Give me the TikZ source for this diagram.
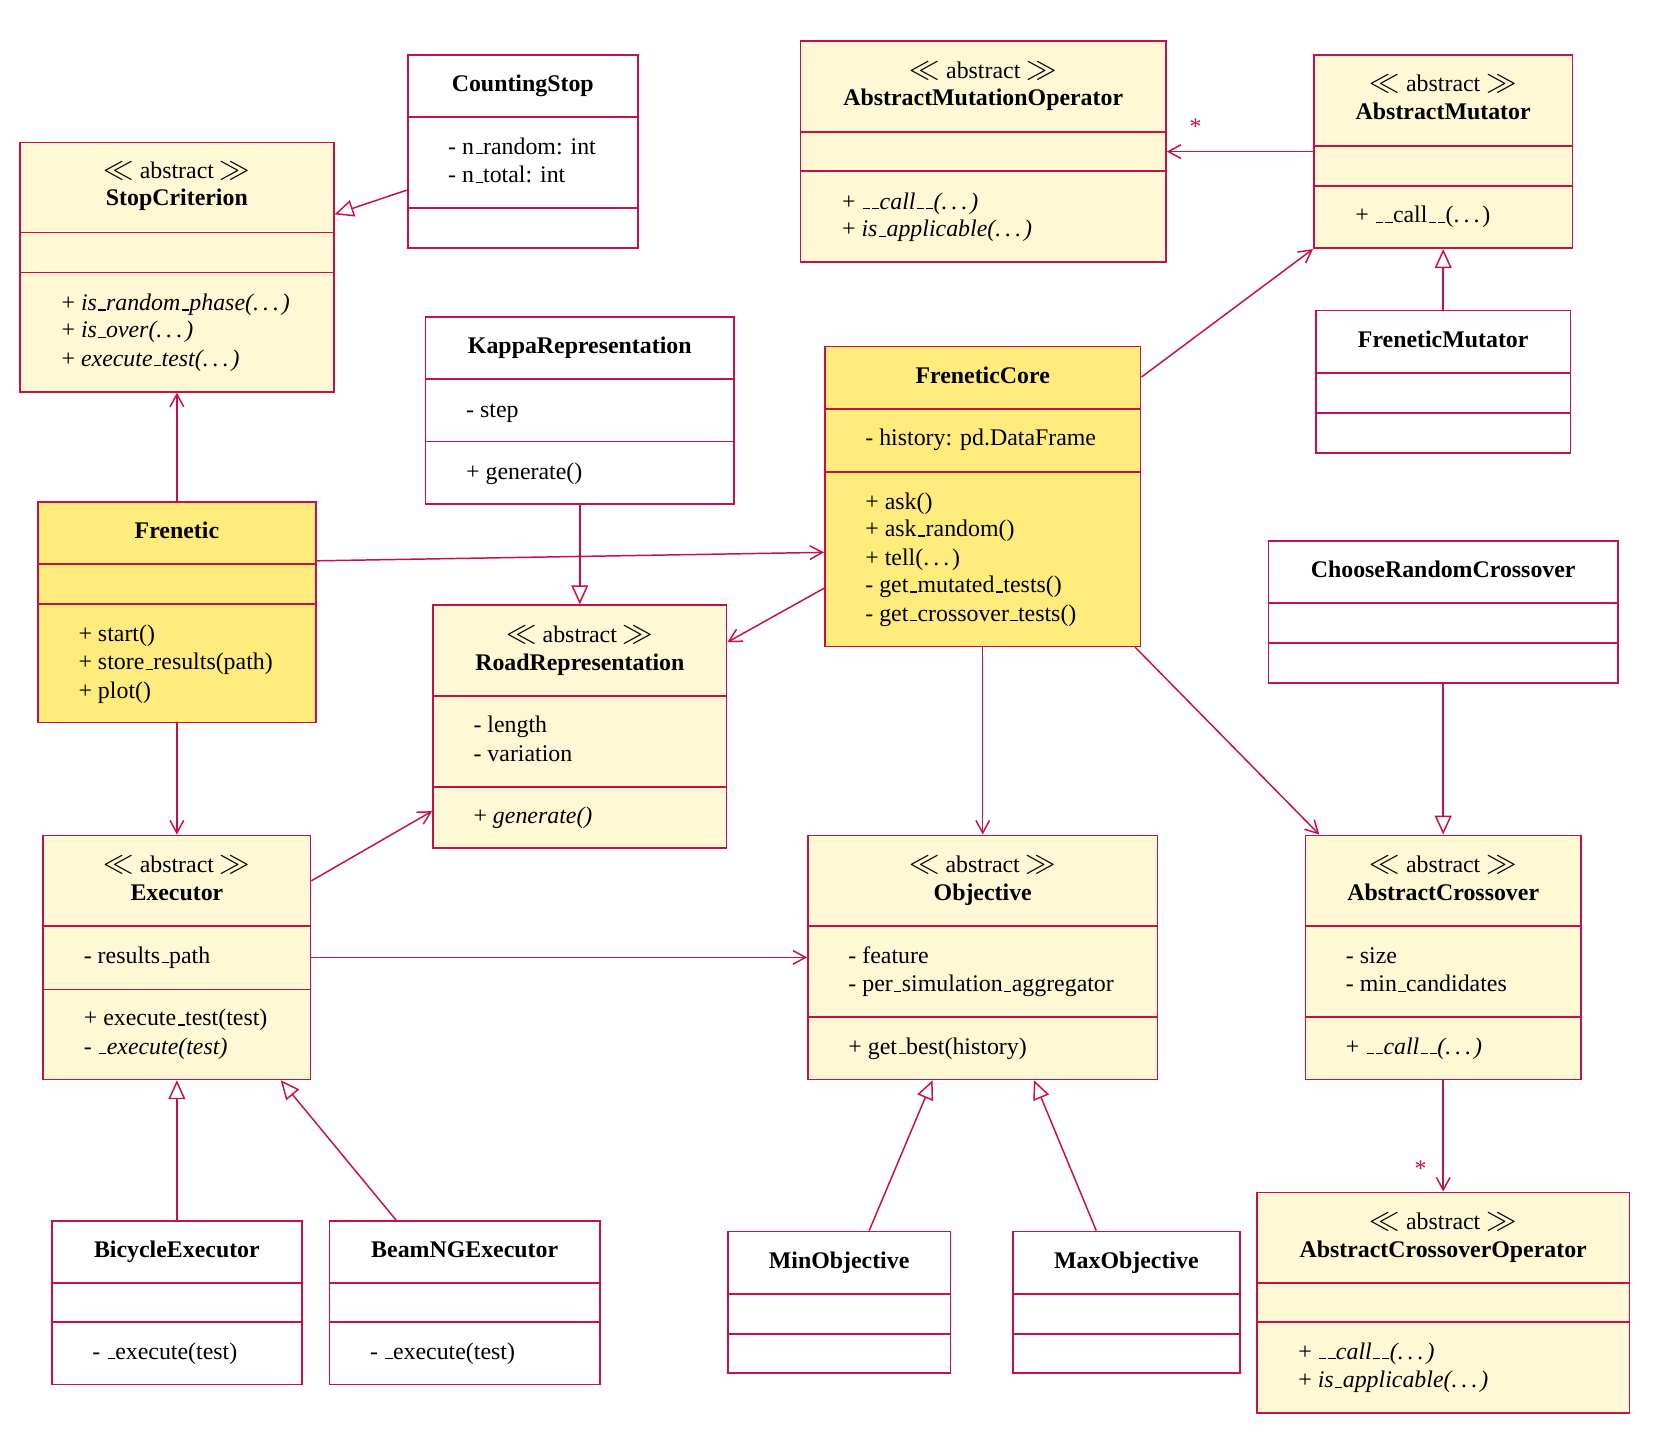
\documentclass[tikz,border=0pt]{standalone}
\usepackage{fontspec}
\setmainfont{Liberation Serif}
\usetikzlibrary{arrows.meta,fit,calc}
\definecolor{umlred}{RGB}{200,16,72}
\definecolor{lightfill}{RGB}{255,248,212}
\definecolor{darkfill}{RGB}{255,236,125}
\newcommand\dts{.\kern0.17em.\kern0.17em.\kern0.12em}
\newcommand\us{\leavevmode\kern.06em\vbox{\hrule width.3em height .045em}\kern.02em}
\newcommand\stereo{{\fontsize{13.5}{13}\selectfont$\ll$} abstract {\fontsize{13.5}{13}\selectfont$\gg$}}
\newcommand\cls[8]{%
  \node[clsbox, fill=#8, fit={(#2,#3)(#4,#5)}] (#1) {};
  \draw[clsline] (#2,#6) -- (#4,#6) (#2,#7) -- (#4,#7);}
\newcommand\tl[4]{\node[txt] (#1) at (#2,#3+7) {#4};}
\newcommand\tc[4]{\node[ctr] (#1) at (#2,#3+7) {#4};}
\begin{document}
\begin{tikzpicture}[x=0.5pt,y=-0.5pt,
  clsbox/.style={draw=umlred, line width=0.8pt, inner sep=0pt, rectangle},
  clsline/.style={draw=umlred, line width=0.8pt},
  txt/.style={inner sep=0pt, anchor=base west, font=\fontsize{11.3}{13}\selectfont},
  ctr/.style={inner sep=0pt, anchor=base, font=\fontsize{11.3}{13}\selectfont},
  assoc/.style={draw=umlred, line width=0.7pt, -{Straight Barb[length=6pt,width=6.5pt]}},
  gen/.style={draw=umlred, line width=0.7pt, -{Triangle[open,length=9pt,width=8pt]}},
  mult/.style={text=umlred, inner sep=0pt, font=\fontsize{11.3}{13}\selectfont}]
\useasboundingbox (0,0) rectangle (1568,1367);
\fill[white] (0,0) rectangle (1568,1367);

% classes
\cls{sc}{19}{135}{316}{371}{220}{258}{lightfill}
\cls{cs}{386}{52}{604}{235}{111}{197}{white}
\cls{amo}{758}{39}{1104}{248}{125}{162}{lightfill}
\cls{am}{1244}{52}{1489}{235}{138}{176}{lightfill}
\cls{fm}{1246}{294}{1487}{429}{353}{391}{white}
\cls{kr}{403}{300}{695}{477}{359}{418}{white}
\cls{fc}{781}{328}{1080}{612}{387}{447}{darkfill}
\cls{fr}{36}{475}{299}{684}{534}{572}{darkfill}
\cls{rr}{410}{573}{688}{803}{659}{745}{lightfill}
\cls{crc}{1201}{512}{1532}{647}{571}{609}{white}
\cls{ex}{41}{791}{294}{1022}{877}{937}{lightfill}
\cls{ob}{765}{791}{1096}{1022}{877}{963}{lightfill}
\cls{ac}{1236}{791}{1497}{1022}{877}{963}{lightfill}
\cls{be}{49}{1156}{286}{1311}{1215}{1252}{white}
\cls{bn}{312}{1156}{568}{1311}{1215}{1252}{white}
\cls{mo}{689}{1166}{900}{1300}{1225}{1263}{white}
\cls{xo}{959}{1166}{1174}{1300}{1225}{1263}{white}
\cls{aco}{1190}{1129}{1543}{1338}{1215}{1252}{lightfill}

% texts
\tc{sc-s}{167.5}{162}{\stereo}
\tc{sc-n}{167.5}{188}{\textbf{StopCriterion}}
\tl{sc-m1}{58}{287}{+ \textit{is\us random\us phase(\dts)}}
\tl{sc-m2}{58}{313}{+ \textit{is\us over(\dts)}}
\tl{sc-m3}{58}{340}{+ \textit{execute\us test(\dts)}}

\tc{cs-n}{495}{80}{\textbf{CountingStop}}
\tl{cs-a1}{424}{139}{- n\us random: int}
\tl{cs-a2}{424}{166}{- n\us total: int}

\tc{amo-s}{931}{67}{\stereo}
\tc{amo-n}{931}{93}{\textbf{AbstractMutationOperator}}
\tl{amo-m1}{797}{191}{+ \textit{\us\us call\us\us(\dts)}}
\tl{amo-m2}{797}{217}{+ \textit{is\us applicable(\dts)}}

\tc{am-s}{1366.5}{80}{\stereo}
\tc{am-n}{1366.5}{106}{\textbf{AbstractMutator}}
\tl{am-m1}{1283}{204}{+ \us\us call\us\us(\dts)}

\tc{fm-n}{1366.5}{322}{\textbf{FreneticMutator}}

\tc{kr-n}{549}{328}{\textbf{KappaRepresentation}}
\tl{kr-a1}{441}{388}{- step}
\tl{kr-m1}{441}{447}{+ generate()}

\tc{fc-n}{930.5}{356}{\textbf{FreneticCore}}
\tl{fc-a1}{819}{415}{- history: pd.DataFrame}
\tl{fc-m1}{819}{475}{+ ask()}
\tl{fc-m2}{819}{501}{+ ask\us random()}
\tl{fc-m3}{819}{528}{+ tell(\dts)}
\tl{fc-m4}{819}{554}{- get\us mutated\us tests()}
\tl{fc-m5}{819}{581}{- get\us crossover\us tests()}

\tc{fr-n}{167.5}{503}{\textbf{Frenetic}}
\tl{fr-m1}{74}{600}{+ start()}
\tl{fr-m2}{74}{627}{+ store\us results(path)}
\tl{fr-m3}{74}{654}{+ plot()}

\tc{rr-s}{549}{601}{\stereo}
\tc{rr-n}{549}{628}{\textbf{RoadRepresentation}}
\tl{rr-a1}{448}{687}{- length}
\tl{rr-a2}{448}{714}{- variation}
\tl{rr-m1}{448}{773}{+ \textit{generate()}}

\tc{crc-n}{1366.5}{540}{\textbf{ChooseRandomCrossover}}

\tc{ex-s}{167.5}{819}{\stereo}
\tc{ex-n}{167.5}{846}{\textbf{Executor}}
\tl{ex-a1}{79}{905}{- results\us path}
\tl{ex-m1}{79}{964}{+ execute\us test(test)}
\tl{ex-m2}{79}{991}{- \textit{\us execute(test)}}

\tc{ob-s}{930.5}{819}{\stereo}
\tc{ob-n}{930.5}{846}{\textbf{Objective}}
\tl{ob-a1}{803}{905}{- feature}
\tl{ob-a2}{803}{932}{- per\us simulation\us aggregator}
\tl{ob-m1}{803}{991}{+ get\us best(history)}

\tc{ac-s}{1366.5}{819}{\stereo}
\tc{ac-n}{1366.5}{846}{\textbf{AbstractCrossover}}
\tl{ac-a1}{1274}{905}{- size}
\tl{ac-a2}{1274}{932}{- min\us candidates}
\tl{ac-m1}{1274}{991}{+ \textit{\us\us call\us\us(\dts)}}

\tc{be-n}{167.5}{1184}{\textbf{BicycleExecutor}}
\tl{be-m1}{87}{1280}{- \us execute(test)}
\tc{bn-n}{440}{1184}{\textbf{BeamNGExecutor}}
\tl{bn-m1}{350}{1280}{- \us execute(test)}
\tc{mo-n}{794.5}{1194}{\textbf{MinObjective}}
\tc{xo-n}{1066.5}{1194}{\textbf{MaxObjective}}

\tc{aco-s}{1366.5}{1157}{\stereo}
\tc{aco-n}{1366.5}{1184}{\textbf{AbstractCrossoverOperator}}
\tl{aco-m1}{1229}{1280}{+ \textit{\us\us call\us\us(\dts)}}
\tl{aco-m2}{1229}{1307}{+ \textit{is\us applicable(\dts)}}

% connectors
\draw[gen] ($(cs.west)+(0,36.5)$) -- ($(sc.east)+(0,-50)$);
\draw[assoc] (fr.north) -- (sc.south);
\draw[assoc] ($(fr.east)+(0,-48.5)$) -- ($(fc.west)+(0,53)$);
\draw[assoc] (fr.south) -- (ex.north);
\draw[gen] (kr.south) -- (rr.north);
\draw[assoc] ($(fc.west)+(0,87)$) -- ($(rr.east)+(0,-80)$);
\draw[assoc] ($(fc.east)+(0,-113)$) -- (am.south west);
\draw[assoc] (am.west) -- (amo.east);
\node[mult] (st1) at (1132,120) {*};
\draw[gen] (fm.north) -- (am.south);
\draw[assoc] (fc.south) -- (ob.north);
\draw[assoc] ($(fc.south east)+(-6,0)$) -- ($(ac.north west)+(14,0)$);
\draw[gen] (crc.south) -- (ac.north);
\draw[assoc] ($(ex.east)+(0,-72.5)$) -- ($(rr.west)+(0,80)$);
\draw[assoc] (ex.east) -- (ob.west);
\draw[gen] (be.north) -- (ex.south);
\draw[gen] ($(bn.north)+(-65,0)$) -- ($(ex.south east)+(-29,0)$);
\draw[gen] ($(mo.north)+(28.5,0)$) -- ($(ob.south)+(-47.5,0)$);
\draw[gen] ($(xo.north)+(-28.5,0)$) -- ($(ob.south)+(48.5,0)$);
\draw[assoc] (ac.south) -- (aco.north);
\node[mult] (st2) at (1345,1107) {*};
\end{tikzpicture}
\end{document}
